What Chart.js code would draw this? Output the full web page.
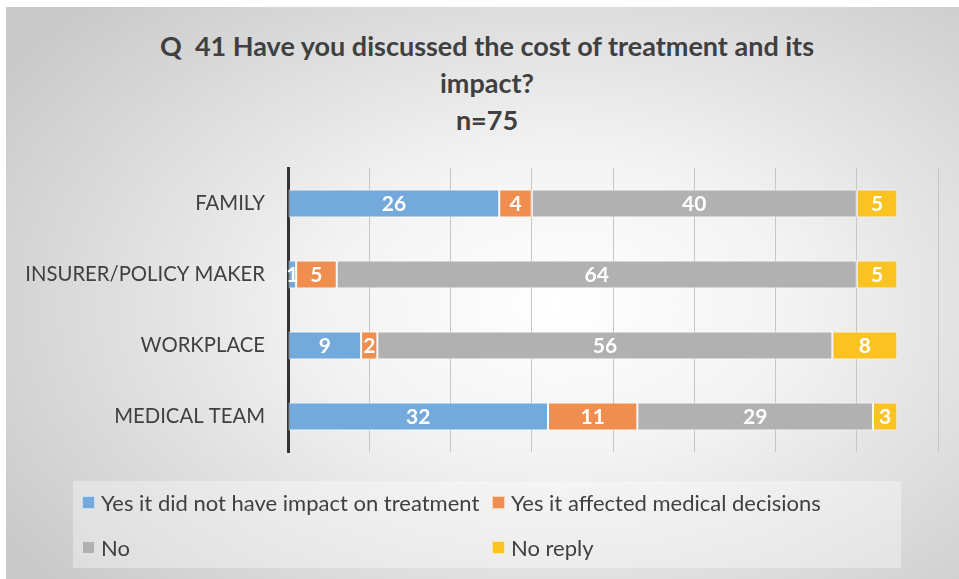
<!DOCTYPE html>
<html>
<head>
<meta charset="utf-8">
<script src="https://cdn.jsdelivr.net/npm/chart.js@4.4.1/dist/chart.umd.min.js"></script>
<style>
  html, body { margin: 0; padding: 0; background: #fff; }
  body { width: 959px; height: 579px; position: relative; overflow: hidden; font-family: Lato, "Open Sans", sans-serif; }
  .panel {
    position: absolute; left: 6px; top: 7px; right: 0; bottom: 0;
    background: radial-gradient(ellipse 70% 75% at 58% 52%, #ffffff 0%, #f3f3f3 35%, #d9d9d9 75%, #c9c9c9 100%);
  }
  #chart { position: absolute; left: 0; top: 0; }
  .title {
    position: absolute; left: 0; top: 27px; width: 974px;
    text-align: center; color: #404040;
    font-size: 27px; font-weight: bold; line-height: 37px; white-space: pre;
  }
  .legend {
    position: absolute; left: 73px; top: 481px; width: 828px; height: 87px;
    background: rgba(255, 255, 255, 0.35);
    color: #404040; font-size: 22px;
  }
  .legend .item { position: absolute; display: flex; align-items: center; white-space: nowrap; }
  .legend .box { width: 11px; height: 11px; margin-right: 6px; border: 1px solid rgba(255,255,255,0.6); }
</style>
</head>
<body>
<div class="panel"></div>
<div class="title" id="title"></div>
<canvas id="chart" width="959" height="579"></canvas>
<div class="legend" id="legend"></div>
<script>
const categories = ['FAMILY', 'INSURER/POLICY MAKER', 'WORKPLACE', 'MEDICAL TEAM'];
const seriesNames = ['Yes it did not have impact on treatment', 'Yes it affected medical decisions', 'No', 'No reply'];
const noImpact = [26, 1, 9, 32];
const affected = [4, 5, 2, 11];
const no = [40, 64, 56, 29];
const noReply = [5, 5, 8, 3];
const colors = ['#73a9db', '#ef8e4e', '#b1b1b1', '#fbc322'];

const titleLines = ['Q  41 Have you discussed the cost of treatment and its', 'impact?', 'n=75'];
document.getElementById('title').textContent = titleLines.join('\n');

// white numbers in the middle of every segment
const barLabels = {
  id: 'barLabels',
  afterDatasetsDraw(chart) {
    const ctx = chart.ctx;
    ctx.save();
    ctx.fillStyle = '#ffffff';
    ctx.font = 'bold 21px Lato, "Open Sans", sans-serif';
    ctx.textAlign = 'center';
    ctx.textBaseline = 'middle';
    chart.data.datasets.forEach((ds, i) => {
      const meta = chart.getDatasetMeta(i);
      meta.data.forEach((bar, j) => {
        const p = bar.getProps(['x', 'y', 'base'], true);
        ctx.fillText(String(ds.data[j]), (p.x + p.base) / 2, p.y + 1);
      });
    });
    ctx.restore();
  }
};

const allSeries = [noImpact, affected, no, noReply];

new Chart(document.getElementById('chart'), {
  type: 'bar',
  data: {
    labels: categories,
    datasets: allSeries.map((vals, i) => ({
      label: seriesNames[i],
      data: vals,
      backgroundColor: colors[i],
      borderColor: 'rgba(255,255,255,0.75)',
      borderWidth: 1,
      borderSkipped: false,
      categoryPercentage: 0.5,
      barPercentage: 0.79
    }))
  },
  options: {
    indexAxis: 'y',
    responsive: false,
    animation: false,
    layout: { padding: { left: 0, right: 21, top: 168, bottom: 127 } },
    plugins: {
      legend: { display: false },
      tooltip: { enabled: false },
      title: { display: false }
    },
    scales: {
      x: {
        stacked: true,
        min: 0,
        max: 80,
        ticks: { display: false, stepSize: 10 },
        grid: { color: '#c6c6c6', drawTicks: false },
        border: { display: false }
      },
      y: {
        stacked: true,
        grid: { display: false, drawTicks: false },
        border: { display: true, color: '#333333', width: 3 },
        ticks: {
          color: '#404040',
          padding: 23,
          font: { family: 'Lato, "Open Sans", sans-serif', size: 20.3 }
        },
        // axis line sits at x=288 regardless of label widths
        afterFit(scale) { scale.width = 288; }
      }
    }
  },
  plugins: [barLabels]
});

// legend: two columns, two rows
const legend = document.getElementById('legend');
const spots = [[9, 22], [419, 22], [9, 67], [419, 67]];
seriesNames.forEach((name, i) => {
  const item = document.createElement('div');
  item.className = 'item';
  item.style.left = spots[i][0] + 'px';
  item.style.top = (spots[i][1] - 14) + 'px';
  item.innerHTML = '<span class="box" style="background:' + colors[i] + '"></span><span>' + name + '</span>';
  legend.appendChild(item);
});
</script>
</body>
</html>
